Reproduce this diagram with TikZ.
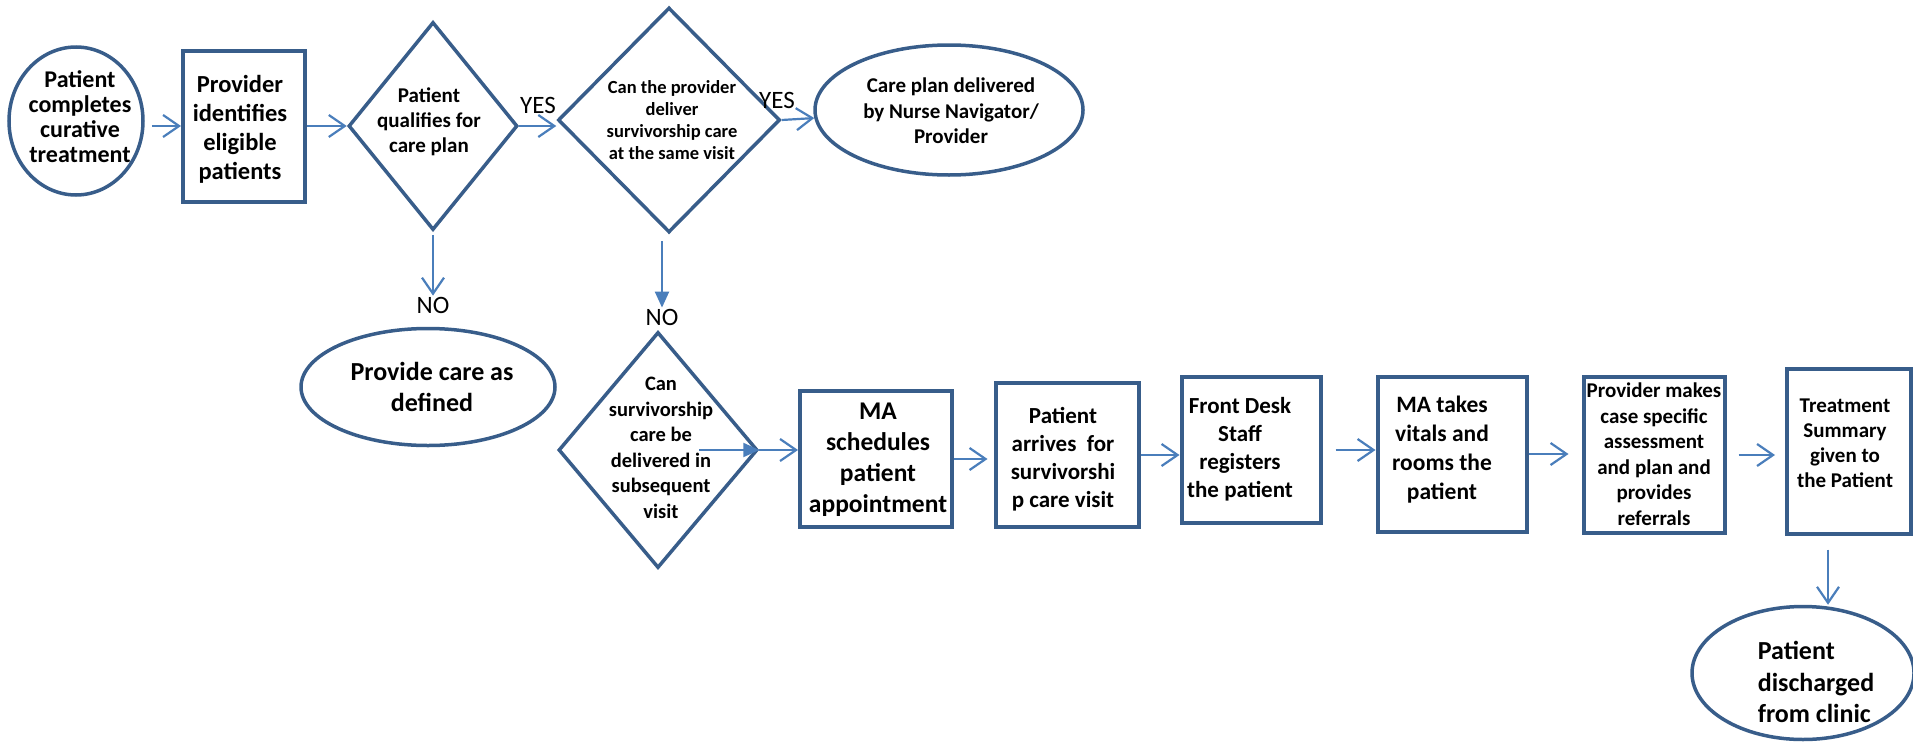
\documentclass[tikz,border=0pt]{standalone}
\usepackage{fontspec}
\setmainfont{Carlito}
\usetikzlibrary{shapes.geometric,arrows.meta}
\definecolor{boxblue}{RGB}{56,93,138}
\definecolor{arrowblue}{RGB}{74,126,187}
\tikzset{
  flowbox/.style={draw=boxblue, line width=4pt, rectangle, inner sep=0pt},
  decision/.style={draw=boxblue, line width=3.5pt, diamond, inner sep=0pt},
  terminal/.style={draw=boxblue, line width=3.5pt, ellipse, inner sep=0pt},
  txt/.style 2 args={align=center, inner sep=0pt, font=\fontsize{#1}{#2}\selectfont\bfseries},
  answer/.style={inner sep=1pt, font=\fontsize{25}{30}\selectfont},
  flow/.style={draw=arrowblue, line width=2.2pt, -{Straight Barb[length=16pt,width=22pt]}},
  flowfill/.style={draw=arrowblue, line width=2.2pt, -{Triangle[length=16pt,width=14pt]}}
}
\begin{document}
\begin{tikzpicture}[x=1pt,y=-1pt]
  \useasboundingbox (0,0) rectangle (1913,744);

  \node[terminal, minimum width=134pt, minimum height=148pt] (start) at (76,121) {};
  \node[flowbox, minimum width=122pt, minimum height=151pt] (identify) at (244,126) {};
  \node[decision, minimum width=169pt, minimum height=208pt] (qualify) at (433,126) {};
  \node[decision, minimum width=222pt, minimum height=225pt] (samevisit) at (669,120) {};
  \node[terminal, minimum width=268pt, minimum height=130pt] (deliver) at (949,110) {};
  \node[terminal, minimum width=254pt, minimum height=117pt] (asdefined) at (428,387) {};
  \node[decision, minimum width=199pt, minimum height=236pt] (later) at (658,450) {};
  \node[flowbox, minimum width=152pt, minimum height=136pt] (schedule) at (876,459) {};
  \node[flowbox, minimum width=143pt, minimum height=144pt] (arrive) at (1067,455) {};
  \node[flowbox, minimum width=139pt, minimum height=146pt] (register) at (1251,450) {};
  \node[flowbox, minimum width=149pt, minimum height=155pt] (vitals) at (1452,454) {};
  \node[flowbox, minimum width=141pt, minimum height=156pt] (assess) at (1654,455) {};
  \node[flowbox, minimum width=124pt, minimum height=165pt] (summary) at (1849,451) {};
  \node[terminal, minimum width=222pt, minimum height=133pt] (discharge) at (1803,673) {};

  \node[txt={24}{25}] (starttxt) at (80,117) {Patient\\completes\\curative\\treatment};
  \node[txt={24.5}{29}] (identifytxt) at (240,129) {Provider\\identifies\\eligible\\patients};
  \node[txt={21}{25}] (qualifytxt) at (429,122) {Patient\\qualifies for\\care plan};
  \node[txt={18.5}{22}] (samevisittxt) at (672,120) {Can the provider\\deliver\\survivorship care\\at the same visit};
  \node[txt={21}{25.5}] (delivertxt) at (951,111) {Care plan delivered\\by Nurse Navigator/\\Provider};
  \node[txt={26}{31.5}] (asdefinedtxt) at (432,387) {Provide care as\\defined};
  \node[txt={20.5}{25.5}] (latertxt) at (661,448) {Can\\survivorship\\care be\\delivered in\\subsequent\\visit};
  \node[txt={25.5}{31}] (scheduletxt) at (878,460) {MA\\schedules\\patient\\appointment};
  \node[txt={23}{28}] (arrivetxt) at (1063,459) {Patient\\arrives\ \ for\\survivorshi\\p care visit};
  \node[txt={23}{28}] (registertxt) at (1240,449) {Front Desk\\Staff\\registers\\the patient};
  \node[txt={23.5}{29}] (vitalstxt) at (1442,450) {MA takes\\vitals and\\rooms the\\patient};
  \node[txt={21}{25.5}] (assesstxt) at (1654,454) {Provider makes\\case specific\\assessment\\and plan and\\provides\\referrals};
  \node[txt={21}{25}] (summarytxt) at (1845,443) {Treatment\\Summary\\given to\\the Patient};
  \node[txt={26}{31.5}, align=left] (dischargetxt) at (1816,682) {Patient\\discharged\\from clinic};

  \node[answer] (yes1) at (538,105) {YES};
  \node[answer] (yes2) at (777,100) {YES};
  \node[answer] (no1) at (433,305) {NO};
  \node[answer] (no2) at (662,317) {NO};

  \draw[flow, shorten <=7pt] (start.east |- identify) -- (identify);
  \draw[flow] (identify) -- (qualify);
  \draw[flow] (qualify.east) -- (qualify.east -| samevisit.west);
  \draw[flow] (samevisit.east) -- (deliver);
  \draw[flow, shorten <=3pt] (qualify.south) -- (no1.north);
  \draw[flowfill, shorten <=7pt] (samevisit.south -| no2.north) -- (no2.north);
  \draw[flowfill] ([xshift=-60pt]later.east) -- (later.east);
  \draw[flow] (later.east) -- (later.east -| schedule.west);
  \draw[flow, shorten >=6pt] (schedule.east) -- (schedule.east -| arrive.west);
  \draw[flow] (arrive.east) -- (arrive.east -| register.west);
  \draw[flow, shorten <=13pt] (register.east) -- (register.east -| vitals.west);
  \draw[flow, shorten >=13pt] (vitals.east) -- (vitals.east -| assess.west);
  \draw[flow, shorten <=12pt, shorten >=10pt] (assess.east) -- (assess.east -| summary.west);
  \draw[flow, shorten <=14pt] ([xshift=-21pt]summary.south) -- ([xshift=-21pt]summary.south |- discharge.north);
\end{tikzpicture}
\end{document}
